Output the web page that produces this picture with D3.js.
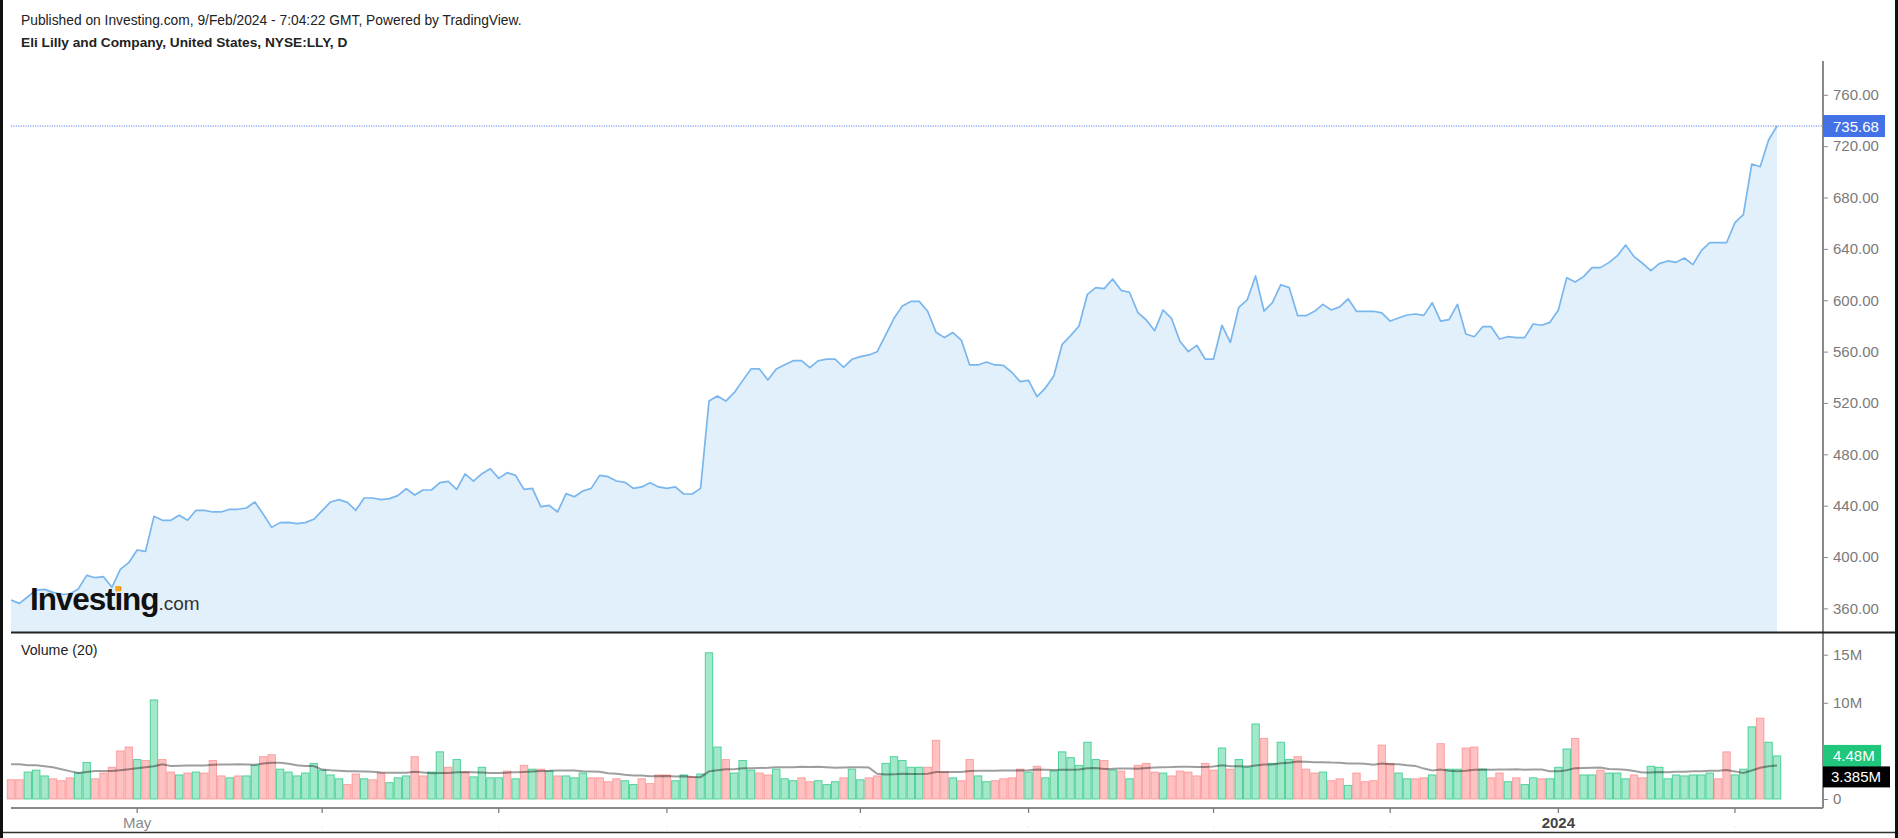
<!DOCTYPE html>
<html><head><meta charset="utf-8">
<script src="https://cdn.jsdelivr.net/npm/d3@7"></script>
<style>html,body{margin:0;padding:0;background:#fff;overflow:hidden}svg{display:block;font-family:"Liberation Sans",Arial,sans-serif}</style>
</head><body><svg id="c" width="1898" height="838"></svg>
<script>
// ---- data ----
const closes = [
366.5,363.9,369.1,374.3,374.8,372.5,371.0,371.2,375.1,385.7,383.9,384.7,376.4,390.4,395.6,405.5,404.4,431.7,428.6,428.6,
432.5,428.6,436.4,436.4,435.1,435.1,437.2,437.2,438.2,442.9,433.3,423.1,426.8,427.0,426.0,426.8,429.4,436.1,442.9,444.7,
442.6,436.4,446.0,446.0,444.7,445.5,447.8,453.2,448.3,452.2,452.2,457.9,458.9,452.6,464.7,459.2,464.9,468.8,461.3,465.7,
463.6,452.7,453.5,439.2,440.3,435.1,449.4,447.0,451.4,453.5,463.6,462.6,459.2,458.2,453.5,454.6,457.9,454.6,453.5,454.6,
449.1,449.1,453.5,521.5,525.4,521.5,528.0,537.4,546.5,546.5,537.9,546.5,549.8,552.9,552.9,547.5,552.9,554.2,554.2,547.8,
554.0,556.1,557.4,559.9,572.9,585.9,595.6,599.1,599.1,591.4,575.0,570.9,574.8,569.0,549.6,549.6,551.9,549.6,549.3,543.9,
536.6,537.6,524.9,531.6,541.0,565.7,572.4,579.9,604.6,609.8,609.0,616.5,607.7,606.2,590.3,584.6,576.3,592.4,585.9,568.0,
560.0,564.9,554.2,554.2,580.5,567.2,594.5,600.2,618.9,591.6,598.1,612.1,609.8,588.0,588.0,591.4,596.8,592.4,594.8,601.1,
591.4,591.4,591.4,590.1,583.8,586.2,588.5,589.3,588.2,598.1,583.8,584.9,596.8,573.7,571.6,579.4,579.4,569.8,571.6,570.9,
570.9,581.5,580.5,582.8,592.4,617.6,614.2,618.4,625.4,625.4,629.3,634.5,643.0,634.0,628.8,623.0,628.5,630.6,629.5,632.9,
627.7,638.6,644.8,644.8,644.8,660.4,666.6,706.1,704.0,724.8,735.68
];
const volumes = [
2.0,2.0,2.8,3.0,2.4,2.1,1.9,2.2,2.7,3.8,2.1,2.7,3.3,5.0,5.4,4.1,4.0,10.3,4.1,2.8,
2.5,2.7,2.8,2.7,4.0,2.4,2.2,2.4,2.4,3.5,4.4,4.6,3.1,2.8,2.4,2.7,3.7,3.0,2.5,2.1,
1.5,2.6,2.1,2.0,2.7,1.7,2.2,2.4,4.4,2.4,2.8,4.9,3.3,4.1,2.8,2.3,3.3,2.2,2.2,2.9,
2.1,3.5,3.1,3.1,2.9,2.4,2.4,2.2,2.7,2.2,2.2,1.8,2.1,1.9,1.5,2.1,1.6,2.5,2.5,1.9,
2.5,2.3,2.6,15.2,5.4,4.1,2.7,4.0,3.0,2.7,2.5,3.1,2.1,1.9,2.2,1.8,1.9,1.5,1.8,2.2,
3.1,2.0,2.2,2.4,3.7,4.4,4.0,3.3,3.3,3.3,6.1,2.8,2.2,1.9,4.1,2.4,1.8,1.9,2.1,2.2,
3.1,2.8,3.4,2.2,2.9,4.9,4.3,3.5,5.9,4.1,4.0,3.0,2.9,2.1,3.5,3.7,2.8,2.7,2.4,2.9,
2.8,2.4,3.7,3.0,5.3,3.1,4.1,3.3,7.8,6.3,3.7,5.9,4.1,4.4,3.1,2.7,2.8,1.9,2.1,1.4,
2.7,1.8,1.9,5.6,3.7,2.7,2.1,2.1,2.2,2.5,5.75,3.1,3.1,5.3,5.4,3.1,2.2,2.7,1.8,2.2,
1.5,2.2,2.1,2.1,3.3,5.2,6.3,2.5,2.5,3.0,2.7,2.7,2.1,2.5,2.2,3.4,3.3,2.1,2.5,2.4,
2.5,2.5,2.7,2.1,4.9,2.5,3.1,7.5,8.4,5.9,4.48
];
const volUp = [
0,0,1,1,1,0,0,0,1,1,0,0,0,0,0,1,0,1,0,0,
1,0,1,0,0,0,1,0,1,1,0,0,1,1,1,1,1,1,1,1,
0,0,1,0,0,1,1,1,0,0,1,1,0,1,0,1,1,1,1,0,
1,0,1,0,1,0,1,1,1,0,0,0,0,1,1,0,0,0,0,1,
1,0,1,1,1,0,1,1,1,0,0,1,1,1,0,0,1,1,1,0,
1,1,0,0,1,1,1,1,1,0,0,0,1,0,0,1,1,0,0,0,
0,1,0,1,1,1,1,1,1,1,0,1,0,1,0,0,0,1,0,0,
0,0,0,0,1,0,1,1,1,0,1,1,1,0,0,0,1,0,0,1,
0,0,0,0,0,1,1,0,0,1,0,1,1,0,0,1,0,0,1,0,
1,1,0,1,1,1,0,1,1,0,1,1,1,0,0,1,1,1,1,1,
1,1,1,0,0,1,1,1,0,1,1
];
const maHead = [3.6,3.6,3.5,3.5,3.4,3.3,3.1,2.9,2.7,2.8,2.9,2.9,2.9,3.0,3.1,3.2,3.3,3.4,3.6];
const priceTicks = [360,400,440,480,520,560,600,640,680,720,760];
const volTicks = [0,10,15];
const monthTickIndex = [15,37,58,78,101,121,143,164,184,205];
const monthTickLabels = ["May","","","","","","","","2024",""];
const lastPrice = 735.68, lastVolLabel = "4.48M", lastMALabel = "3.385M";
const headerLine1 = "Published on Investing.com, 9/Feb/2024 - 7:04:22 GMT, Powered by TradingView.";
const headerLine2 = "Eli Lilly and Company, United States, NYSE:LLY, D";

// ---- drawing ----
const svg = d3.select("#c");
const L = 11, AX = 1823, RIGHT = 1898;
const x = d3.scaleLinear().domain([0, closes.length - 1]).range([11, 1777]);
const yP = d3.scaleLinear().domain([360, 760]).range([608.4, 94.8]);
const yV = d3.scaleLinear().domain([0, 15]).range([799, 654.7]);
const paneTop = 61, divY = 632.5, volBottom = 808;

svg.append("rect").attr("width", 1898).attr("height", 838).attr("fill", "#fff");

// header
svg.append("text").attr("x", 21).attr("y", 24.5).attr("font-size", 13.8).attr("fill", "#222").text(headerLine1);
svg.append("text").attr("x", 21).attr("y", 47).attr("font-size", 13.7).attr("font-weight", "bold").attr("fill", "#222").text(headerLine2);

// clip
svg.append("clipPath").attr("id", "pc").append("rect").attr("x", L).attr("y", paneTop).attr("width", AX - L).attr("height", divY - paneTop);

const g = svg.append("g").attr("clip-path", "url(#pc)");
g.append("path").datum(closes)
  .attr("d", d3.area().x((d, i) => x(i)).y0(divY).y1(d => yP(d)))
  .attr("fill", "#e1f0fa");
g.append("path").datum(closes)
  .attr("d", d3.line().x((d, i) => x(i)).y(d => yP(d)))
  .attr("fill", "none").attr("stroke", "#7ab6ee").attr("stroke-width", 1.7).attr("stroke-linejoin", "round");

// last price dotted line
svg.append("line").attr("x1", L).attr("x2", AX).attr("y1", yP(lastPrice)).attr("y2", yP(lastPrice))
  .attr("stroke", "#5a80ea").attr("stroke-width", 1).attr("stroke-dasharray", "1.2,1.2");

// logo
const logo = svg.append("text").attr("x", 30).attr("y", 610).attr("fill", "#111");
logo.append("tspan").attr("font-size", 31.5).attr("font-weight", "bold").attr("letter-spacing", -1.1).text("Investing");
logo.append("tspan").attr("font-size", 19).attr("fill", "#333").text(".com");
try {
  const ext = logo.node().getExtentOfChar(6);
  svg.append("rect").attr("x", ext.x + ext.width / 2 - 3).attr("y", 586).attr("width", 5.6).attr("height", 5.4)
    .attr("fill", "#f7a51b");
} catch (e) {}

// price axis
svg.append("line").attr("x1", AX).attr("x2", AX).attr("y1", paneTop).attr("y2", volBottom).attr("stroke", "#8a8a8a").attr("stroke-width", 2);
const pa = svg.append("g").attr("transform", `translate(${AX},0)`)
  .call(d3.axisRight(yP).tickValues(priceTicks).tickFormat(d => d.toFixed(2)).tickSize(5).tickPadding(5));
pa.select(".domain").remove();
pa.selectAll("line").attr("stroke", "#8a8a8a");
pa.selectAll("text").attr("font-size", 15).attr("fill", "#7a7a7a").attr("font-family", "Liberation Sans, Arial, sans-serif");

// last price label
const lp = svg.append("g").attr("transform", `translate(${AX},${yP(lastPrice)})`);
lp.append("rect").attr("x", 0).attr("y", -11).attr("width", 62).attr("height", 22).attr("fill", "#4371e6");
lp.append("text").attr("x", 10).attr("y", 5.5).attr("font-size", 15).attr("fill", "#fff").text(lastPrice.toFixed(2));

// divider
svg.append("line").attr("x1", L).attr("x2", RIGHT).attr("y1", divY).attr("y2", divY).attr("stroke", "#222").attr("stroke-width", 2);

// volume pane
svg.append("text").attr("x", 21).attr("y", 655).attr("font-size", 14.2).attr("fill", "#222").text("Volume (20)");
const bw = (x(1) - x(0));
const vg = svg.append("g");
vg.selectAll("rect").data(volumes).join("rect")
  .attr("x", (d, i) => x(i) - bw / 2 + 0.5)
  .attr("y", d => yV(d))
  .attr("width", bw - 1)
  .attr("height", d => yV(0) - yV(d))
  .attr("fill", (d, i) => volUp[i] ? "rgba(38,200,130,0.42)" : "rgba(255,110,110,0.42)")
  .attr("stroke", (d, i) => volUp[i] ? "rgba(38,200,130,0.75)" : "rgba(250,120,120,0.6)")
  .attr("stroke-width", 1);

const ma = volumes.map((v, i) => i < 19 ? maHead[i] : d3.mean(volumes.slice(i - 19, i + 1)));
svg.append("path").datum(ma)
  .attr("d", d3.line().x((d, i) => x(i)).y(d => yV(d)))
  .attr("fill", "none").attr("stroke", "rgba(0,0,0,0.38)").attr("stroke-width", 2);

// volume axis
const va = svg.append("g").attr("transform", `translate(${AX},0)`)
  .call(d3.axisRight(yV).tickValues(volTicks).tickFormat(d => d === 0 ? "0" : d + "M").tickSize(5).tickPadding(5));
va.select(".domain").remove();
va.selectAll("line").attr("stroke", "#8a8a8a");
va.selectAll("text").attr("font-size", 15).attr("fill", "#7a7a7a").attr("font-family", "Liberation Sans, Arial, sans-serif");

const yVol = yV(volumes[volumes.length - 1]);
const vl = svg.append("g").attr("transform", `translate(${AX},${yVol})`);
vl.append("rect").attr("x", 0).attr("y", -11).attr("width", 58).attr("height", 22).attr("fill", "#1fc67b");
vl.append("text").attr("x", 10).attr("y", 5.5).attr("font-size", 15).attr("fill", "#fff").text(lastVolLabel);
const ml = svg.append("g").attr("transform", `translate(${AX},${yVol + 21})`);
ml.append("rect").attr("x", 0).attr("y", -10.5).attr("width", 67).attr("height", 21).attr("fill", "#000");
ml.append("text").attr("x", 8).attr("y", 5.5).attr("font-size", 15).attr("fill", "#fff").text(lastMALabel);

// time axis
svg.append("line").attr("x1", L).attr("x2", AX).attr("y1", volBottom).attr("y2", volBottom).attr("stroke", "#8a8a8a").attr("stroke-width", 2);
const tg = svg.append("g");
monthTickIndex.forEach((ti, k) => {
  tg.append("line").attr("x1", x(ti)).attr("x2", x(ti)).attr("y1", volBottom).attr("y2", volBottom + 5).attr("stroke", "#777").attr("stroke-width", 1.2);
  if (monthTickLabels[k]) {
    tg.append("text").attr("x", x(ti)).attr("y", 828).attr("text-anchor", "middle").attr("font-size", 15)
      .attr("fill", monthTickLabels[k] === "2024" ? "#444" : "#8a8a8a").attr("font-weight", monthTickLabels[k] === "2024" ? "bold" : "normal")
      .text(monthTickLabels[k]);
  } else {
    tg.append("circle").attr("cx", x(ti)).attr("cy", 827).attr("r", 0.6).attr("fill", "#ccc");
  }
});

// frame
svg.append("line").attr("x1", 0).attr("x2", RIGHT).attr("y1", 832.5).attr("y2", 832.5).attr("stroke", "#333").attr("stroke-width", 1.5);
svg.append("rect").attr("x", 0).attr("y", 0).attr("width", 3).attr("height", 838).attr("fill", "#111");
svg.append("rect").attr("x", 1895).attr("y", 0).attr("width", 3).attr("height", 838).attr("fill", "#111");
</script></body></html>
